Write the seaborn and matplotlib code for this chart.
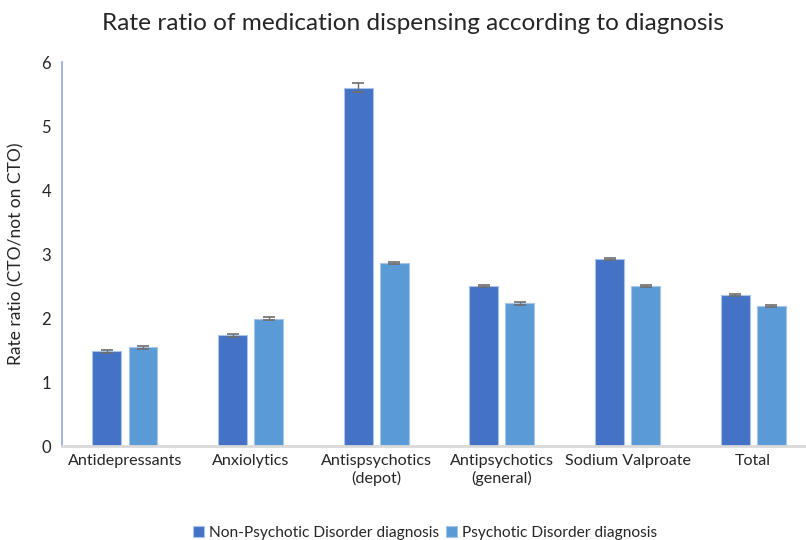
import pandas as pd
import seaborn as sns
import matplotlib.pyplot as plt

categories = ["Antidepressants", "Anxiolytics", "Antispsychotics\n(depot)",
              "Antipsychotics\n(general)", "Sodium Valproate", "Total"]
non_psychotic = [1.48, 1.73, 5.60, 2.50, 2.92, 2.36]
psychotic = [1.54, 1.99, 2.86, 2.23, 2.50, 2.19]
non_psychotic_err = [0.02, 0.02, 0.07, 0.02, 0.02, 0.02]
psychotic_err = [0.02, 0.02, 0.02, 0.02, 0.02, 0.02]
series = ["Non-Psychotic Disorder diagnosis", "Psychotic Disorder diagnosis"]

df = pd.DataFrame({
    "Categoria": categories * 2,
    "Grupo": [series[0]] * 6 + [series[1]] * 6,
    "Valor": non_psychotic + psychotic,
    "Erro": non_psychotic_err + psychotic_err,
})

sns.set_style("white")
plt.rcParams['font.family'] = ['Lato', 'DejaVu Sans']

fig = plt.figure(figsize=(8.06, 5.4), dpi=100)
ax = fig.add_axes([0.077, 0.174, 0.923, 0.711])

sns.barplot(data=df, x="Categoria", y="Valor", hue="Grupo",
            palette=["#4472C4", "#5B9BD5"], saturation=1, width=0.574, gap=0.2,
            errorbar=None, edgecolor="#A9C4EB", linewidth=0.8, ax=ax)

# barras de erro nos centros das barras
for bars, g in zip(ax.containers, series):
    sub = df[df["Grupo"] == g]
    xs = [b.get_x() + b.get_width() / 2 for b in bars]
    ax.errorbar(xs, sub["Valor"], yerr=sub["Erro"], fmt="none",
                ecolor="#6E6E6E", elinewidth=1, capsize=4, capthick=1.2)

ax.set_ylim(0, 6)
ax.set_xlim(-0.5, 5.42)
ax.set_yticks(range(7))
ax.tick_params(axis="y", labelsize=12, length=3, color="#8EA9DB", direction="in", pad=8)
ax.tick_params(axis="x", labelsize=11.6, length=0, pad=6)
ax.set_xlabel("")
ax.set_ylabel("Rate ratio (CTO/not on CTO)", fontsize=12.5, labelpad=12)
for s in ["top", "right"]:
    ax.spines[s].set_visible(False)
ax.spines["left"].set_color("#8EA9DB")
ax.spines["left"].set_linewidth(1.2)
ax.spines["bottom"].set_color("#D9D9D9")
ax.spines["bottom"].set_linewidth(2)

fig.suptitle("Rate ratio of medication dispensing according to diagnosis",
             fontsize=17.6, x=0.512, y=0.975)

ax.legend(loc="lower center", bbox_to_anchor=(0.488, -0.281), ncol=2, frameon=False,
          fontsize=11.2, handlelength=0.7, handleheight=0.7, handletextpad=0.3,
          columnspacing=0.5)

fig.savefig("out.png", dpi=100)
